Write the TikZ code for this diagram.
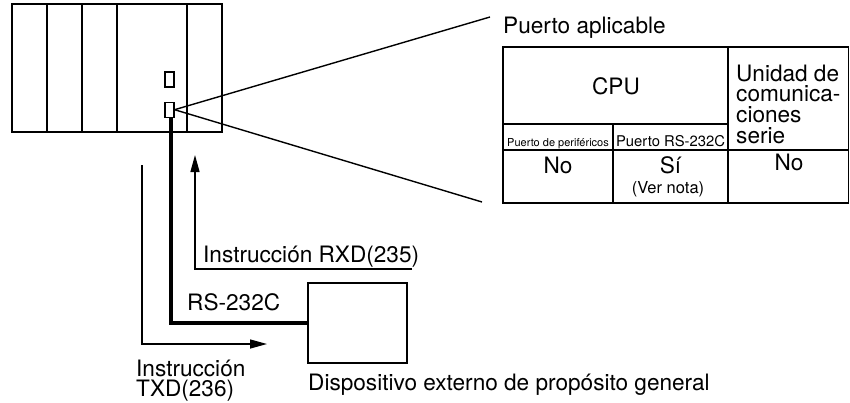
\documentclass[tikz,border=0pt]{standalone}
\usepackage{fontspec}
\setmainfont{TeX Gyre Heros}
\usetikzlibrary{arrows.meta,positioning}
\tikzset{
  unit/.style={draw, line width=1.5pt, inner sep=0pt},
  unitline/.style={line width=1.5pt},
  portbox/.style={draw, line width=1.2pt, minimum width=9pt, minimum height=15pt, inner sep=0pt},
  zoomline/.style={line width=1.4pt},
  cable/.style={line width=3.4pt},
  sig/.style={line width=1.4pt, -{Triangle[length=17pt,width=9pt]}},
  tabline/.style={line width=1.4pt},
  lbl/.style={font=\fontsize{22.6}{20.7}\selectfont, inner sep=0pt},
  notelbl/.style={font=\fontsize{16.5}{16.5}\selectfont, inner sep=0pt},
  headlbl/.style={font=\fontsize{14.8}{14.8}\selectfont, inner sep=0pt},
  tinylbl/.style={font=\fontsize{11}{11}\selectfont, inner sep=0pt}
}
\begin{document}
\begin{tikzpicture}[x=1pt, y=-1pt]
\useasboundingbox (0,0) rectangle (850,402);

% PLC rack with ports
\node[unit, minimum width=210pt, minimum height=128pt] (plc) at (117,68) {};
\foreach \x in {47,82,117,187}
  \draw[unitline] (\x,4) -- (\x,132);
\node[portbox] (portA) at (169.5,79.5) {};
\node[portbox, below=14pt of portA] (portB) {};

% External device
\node[unit, minimum width=99pt, minimum height=80pt] (dev) at (357.5,323) {};
\node[lbl, anchor=base west] (devlbl) at (308,390) {Dispositivo externo de propósito general};

% Zoom lines to the table
\coordinate (ztop) at (490,17);
\coordinate (zbot) at (482,202);
\draw[zoomline] (portB.east) -- (ztop);
\draw[zoomline] (portB.east) -- (zbot);

% RS-232C cable
\draw[cable] ([xshift=1.5pt]portB.south) |- (dev.west);
\node[lbl, anchor=base west] (cablelbl) at (187,310) {RS-232C};

% Send and receive
\coordinate (txs) at (142,165);
\coordinate (txe) at (267,344);
\draw[sig] (txs) |- (txe);
\node[lbl, anchor=north west, align=left] (txlbl) at (136,359.5) {Instrucción\\TXD(236)};
\coordinate (rxs) at (412,269);
\coordinate (rxe) at (195,155);
\draw[sig] (rxs) -| (rxe);
\node[lbl, anchor=base west] (rxlbl) at (203,262) {Instrucción RXD(235)};

% Table
\node[lbl, anchor=base west] (tabtitle) at (503,33) {Puerto aplicable};
\draw[tabline] (503,47) rectangle (848.5,203);
\draw[tabline] (728,47) -- (728,203);
\draw[tabline] (503,124) -- (728,124);
\draw[tabline] (613,124) -- (613,203);
\draw[tabline] (503,150) -- (848.5,150);
\node[lbl] (cpu) at (616,86) {CPU};
\node[lbl, anchor=north west, align=left] (unit) at (736,64.5) {Unidad de\\comunica-\\ciones\\serie};
\node[tinylbl, anchor=base] (perif) at (558,146) {Puerto de periféricos};
\node[headlbl, anchor=base] (rsport) at (670.5,146) {Puerto RS-232C};
\node[lbl, anchor=base] (perifno) at (558,173) {No};
\node[lbl, anchor=base] (rsyes) at (670.5,173) {Sí};
\node[notelbl, anchor=base] (rsnote) at (668,193) {(Ver nota)};
\node[lbl, anchor=base] (unitno) at (789,170) {No};

\end{tikzpicture}
\end{document}
